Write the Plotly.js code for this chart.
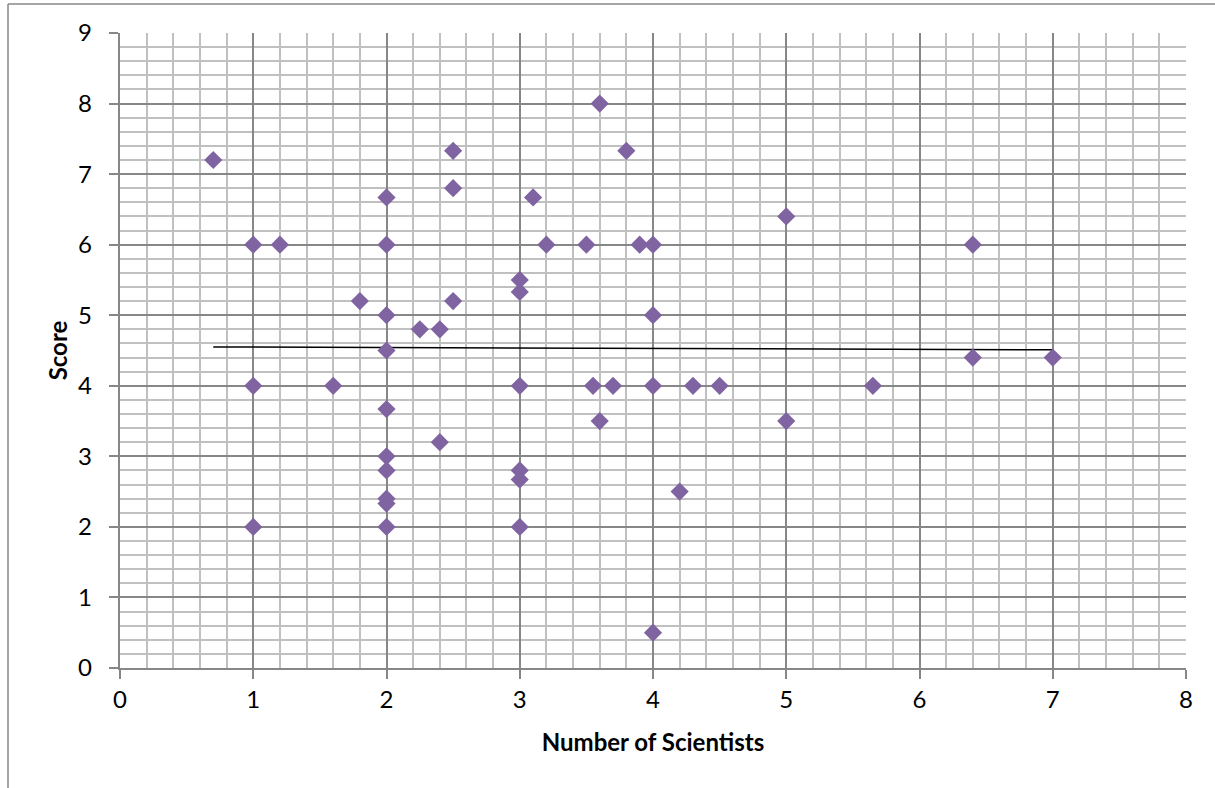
<!DOCTYPE html>
<html>
<head>
<meta charset="utf-8">
<script src="https://cdn.plot.ly/plotly-3.0.1.min.js"></script>
<style>html,body{margin:0;padding:0;background:#fff;}#chart{width:1215px;height:788px;}</style>
</head>
<body>
<div id="chart"></div>
<script>
// Number of scientists per entry
const scientists = [
  0.7, 1, 1.2, 1, 1,
  1.6, 1.8,
  2, 2, 2, 2, 2, 2, 2, 2, 2, 2,
  2.25, 2.4, 2.4,
  2.5, 2.5, 2.5,
  3, 3, 3, 3, 3, 3,
  3.1, 3.2, 3.5, 3.55, 3.6, 3.6, 3.7, 3.8, 3.9,
  4, 4, 4, 4,
  4.2, 4.3, 4.5,
  5, 5, 5.65, 6.4, 6.4, 7
];
// Score per entry
const scores = [
  7.2, 6, 6, 4, 2,
  4, 5.2,
  6.67, 6, 5, 4.5, 3.67, 3, 2.8, 2.4, 2.33, 2,
  4.8, 4.8, 3.2,
  7.33, 6.8, 5.2,
  5.5, 5.33, 4, 2.8, 2.67, 2,
  6.67, 6, 6, 4, 8, 3.5, 4, 7.33, 6,
  6, 5, 4, 0.5,
  2.5, 4, 4,
  6.4, 3.5, 4, 6, 4.4, 4.4
];
// Linear trendline end points
const trendX = [0.7, 7];
const trendY = [4.55, 4.51];

const xTicks = [0, 1, 2, 3, 4, 5, 6, 7, 8];
const yTicks = [0, 1, 2, 3, 4, 5, 6, 7, 8, 9];
const xTitle = "Number of Scientists";
const yTitle = "Score";

const font = "Lato, 'Open Sans', sans-serif";

const data = [
  {
    x: trendX, y: trendY, type: 'scatter', mode: 'lines',
    line: {color: '#000000', width: 1.5}, hoverinfo: 'skip', showlegend: false
  },
  {
    x: scientists, y: scores, type: 'scatter', mode: 'markers',
    marker: {symbol: 'diamond', size: 14, color: '#8064A2', line: {width: 0}},
    showlegend: false
  }
];

const layout = {
  width: 1215, height: 788,
  margin: {l: 120, r: 29, t: 33, b: 120},
  paper_bgcolor: '#ffffff', plot_bgcolor: '#ffffff',
  font: {family: font, color: '#000000', size: 24},
  xaxis: {
    range: [0, 8], tickvals: xTicks, ticktext: xTicks.map(String),
    showgrid: true, gridcolor: '#878787', gridwidth: 2,
    minor: {dtick: 0.2, showgrid: true, gridcolor: '#c0c0c0', gridwidth: 2},
    showline: true, linecolor: '#878787', linewidth: 2,
    ticks: 'outside', ticklen: 9, tickcolor: '#878787', tickwidth: 2,
    zeroline: false, fixedrange: true,
    tickfont: {family: font, size: 24},
    title: {text: '<b>' + xTitle + '</b>', font: {family: font, size: 24}, standoff: 22}
  },
  yaxis: {
    range: [0, 9], tickvals: yTicks, ticktext: yTicks.map(v => String(v) + '\u00a0\u00a0'),
    showgrid: true, gridcolor: '#878787', gridwidth: 2,
    minor: {dtick: 0.2, showgrid: true, gridcolor: '#c0c0c0', gridwidth: 2},
    showline: true, linecolor: '#878787', linewidth: 2,
    ticks: 'outside', ticklen: 9, tickcolor: '#878787', tickwidth: 2,
    zeroline: false, fixedrange: true,
    tickfont: {family: font, size: 24},
    title: {text: '<b>' + yTitle + '</b>', font: {family: font, size: 24}, standoff: 4}
  },
  shapes: [
    {type: 'line', xref: 'paper', yref: 'paper', x0: -112/1066, x1: 1.2, y0: 1 + 29/635, y1: 1 + 29/635,
     line: {color: '#878787', width: 1.5}},
    {type: 'line', xref: 'paper', yref: 'paper', x0: -112/1066, x1: -112/1066, y0: 1 + 29/635, y1: -0.3,
     line: {color: '#878787', width: 1.5}}
  ]
};

Plotly.newPlot('chart', data, layout, {displayModeBar: false, staticPlot: true});
</script>
</body>
</html>
